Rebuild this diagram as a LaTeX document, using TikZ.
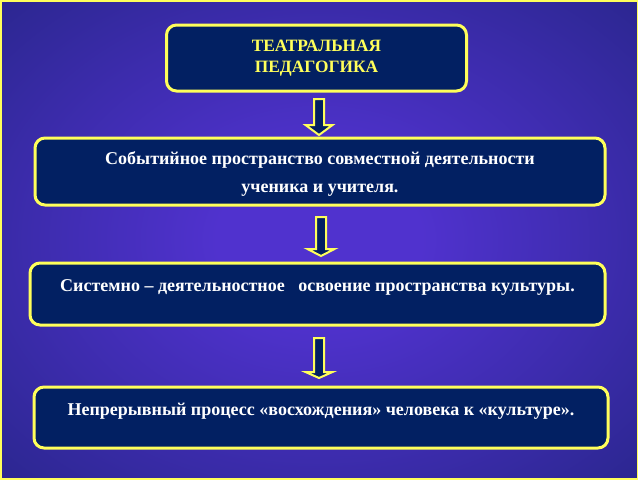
\documentclass[tikz,border=0pt]{standalone}
\usepackage{fontspec}
\setmainfont{Liberation Serif}
\usetikzlibrary{positioning}

\definecolor{bgin}{RGB}{80,50,206}
\definecolor{bgout}{RGB}{16,30,98}
\definecolor{boxfill}{RGB}{2,32,98}
\definecolor{rim}{RGB}{255,255,90}
\pgfdeclareradialshading{slidebg}{\pgfpoint{0bp}{0bp}}{color(0bp)=(bgin); color(8bp)=(bgin); color(56bp)=(bgout); color(75bp)=(bgout)}

\tikzset{
  stage/.style={draw=rim, line width=2.25pt, fill=boxfill, rounded corners=7.5pt,
    text=white, align=center, inner sep=0pt,
    font=\bfseries\fontsize{13.5}{21}\selectfont},
  downarrow/.style={draw=rim, line width=1.5pt, fill=boxfill, line join=miter}
}

\begin{document}
\begin{tikzpicture}[x=0.75pt,y=0.75pt,yscale=-1,xscale=1]
\useasboundingbox (0,0) rectangle (638,479);

% background of the slide
\shade[shading=slidebg] (0,0) rectangle (638,479);
\draw[rim, line width=2.25pt] (0,0) rectangle (638,479);

% the four stages
\node[stage, minimum width=225pt, minimum height=49.5pt, text=rim,
  font=\bfseries\fontsize{13}{15.75}\selectfont] (ped) at (316.5,58)
  {ТЕАТРАЛЬНАЯ\\ПЕДАГОГИКА};
\node[stage, minimum width=427.5pt, minimum height=50.25pt] (event) at (320,171.5)
  {\rule{0pt}{14pt}Событийное пространство совместной деятельности\\ученика и учителя.};
\node[stage, minimum width=431.25pt, minimum height=46.5pt] (sys) at (317.5,294)
  {Системно – деятельностное\ \ \ освоение пространства культуры.\\[-15pt]\strut};
\node[stage, minimum width=430.5pt, minimum height=45.75pt] (proc) at (321,417.5)
  {Непрерывный процесс «восхождения» человека к «культуре».\\[-15pt]\strut};

% block arrows between the stages
\foreach \cx/\ya/\yb/\yc in {319/99/125/135, 321/217/249/256, 319/338/372/378}
  \draw[downarrow] (\cx-5,\ya) -- (\cx+5,\ya) -- (\cx+5,\yb) -- (\cx+13.5,\yb)
    -- (\cx,\yc) -- (\cx-13.5,\yb) -- (\cx-5,\yb) -- cycle;

\end{tikzpicture}
\end{document}
